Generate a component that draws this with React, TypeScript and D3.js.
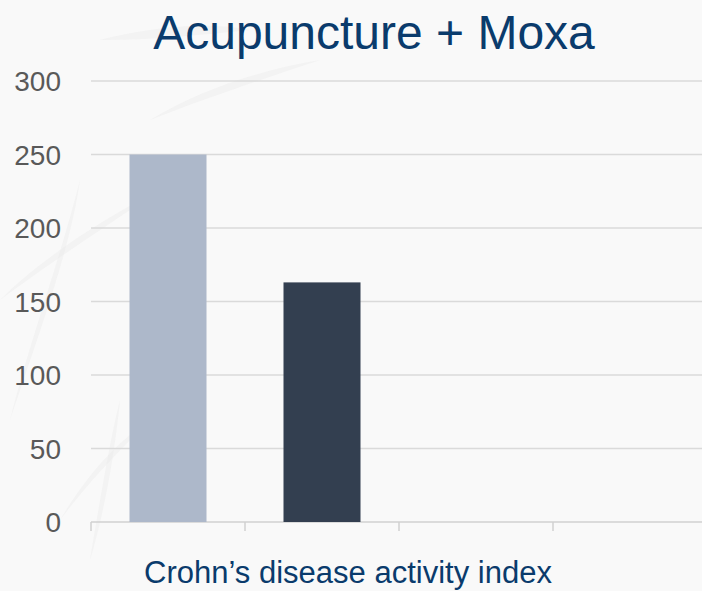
import React from "react";
import * as d3 from "d3";

const categories = ["c1", "c2", "c3", "c4"];
const values: (number | null)[] = [250, 163, null, null];
const barColors = ["#adb8ca", "#333f50", "#adb8ca", "#333f50"];
const yTicks = [0, 50, 100, 150, 200, 250, 300];
const title = "Acupuncture + Moxa";
const xLabel = "Crohn\u2019s disease activity index";

const W = 702;
const H = 591;

export default function App() {
  const x = d3.scaleBand<string>().domain(categories).range([91, 707]).paddingInner(0.5).paddingOuter(0.25);
  const xOuter = d3.scaleBand<string>().domain(categories).range([91, 707]);
  const y = d3.scaleLinear().domain([0, 300]).range([522, 81]);

  const leaves = [
    "M10,420 C40,330 70,250 80,180 C60,260 30,340 10,420 Z",
    "M60,520 C90,470 120,440 150,420 C120,450 90,480 60,520 Z",
    "M0,300 C40,260 100,220 160,190 C100,230 40,270 0,300 Z",
    "M100,40 C140,30 200,20 250,30 C200,35 150,40 100,40 Z",
    "M150,120 C200,90 260,70 320,60 C260,80 200,100 150,120 Z",
    "M90,560 C100,500 110,440 120,400 C115,450 105,510 90,560 Z",
  ];

  return (
    <svg width={W} height={H} style={{ position: "absolute", left: 0, top: 0 }} fontFamily="'Liberation Sans', Arial, sans-serif">
      <rect x={0} y={0} width={W} height={H} fill="#f9f9f9" />
      {leaves.map((d, i) => (
        <path key={i} d={d} fill="#ebebeb" opacity={0.45} />
      ))}
      {yTicks.map((t) => (
        <g key={t}>
          <line x1={91} x2={707} y1={y(t)} y2={y(t)} stroke={t === 0 ? "#d0d0d0" : "#dadada"} strokeWidth={1.5} />
          <text x={61} y={y(t) + 10} textAnchor="end" fontSize={28} fill="#595959">{t}</text>
        </g>
      ))}
      {[...categories.map((c) => xOuter(c)!), 707].map((tx, i) => (
        <line key={i} x1={tx} x2={tx} y1={522} y2={531} stroke="#d0d0d0" strokeWidth={1.5} />
      ))}
      {categories.map((c, i) => {
        const v = values[i];
        if (v == null) return null;
        return <rect key={c} x={x(c)} y={y(v)} width={x.bandwidth()} height={y(0) - y(v)} fill={barColors[i]} />;
      })}
      <text x={374} y={49} textAnchor="middle" fontSize={48} fill="#0a3b6c">{title}</text>
      <text x={348} y={583} textAnchor="middle" fontSize={31} fill="#0a3b6c">{xLabel}</text>
    </svg>
  );
}
